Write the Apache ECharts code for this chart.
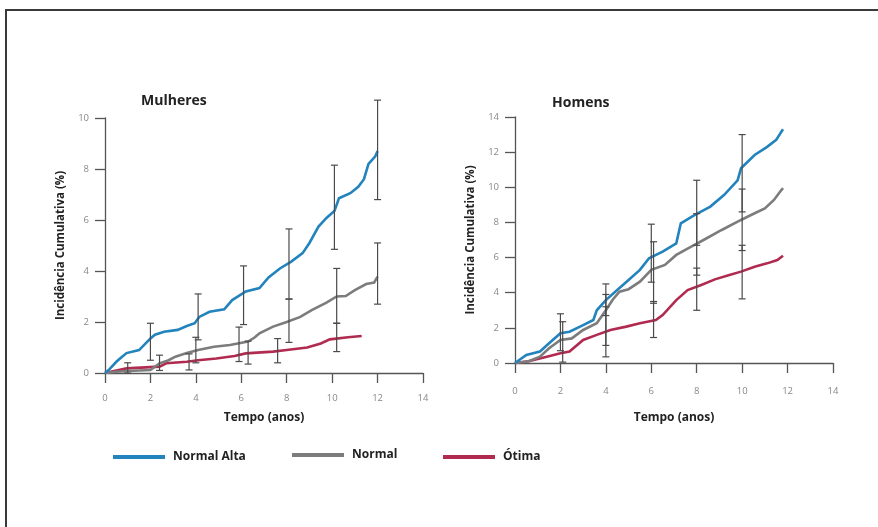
<!DOCTYPE html>
<html>
<head>
<meta charset="utf-8">
<script src="https://cdn.jsdelivr.net/npm/echarts@6/dist/echarts.min.js"></script>
<style>
  html, body { margin: 0; padding: 0; background: #ffffff; }
  #chart { width: 878px; height: 527px; }
</style>
</head>
<body>
<div id="chart"></div>
<script>
// Tick labels shared by both panels
const xTicks = [0, 2, 4, 6, 8, 10, 12, 14];
const seriesNames = ['Normal Alta', 'Normal', 'Ótima'];
const panelTitles = ['Mulheres', 'Homens'];

// Cumulative incidence (%) by year, women: [time, value]
const mulheresNormalAlta = [[0,0],[0.2,0.15],[0.5,0.44],[0.7,0.6],[0.95,0.78],[1.5,0.9],[1.8,1.17],[2.0,1.35],[2.2,1.5],[2.6,1.62],[3.2,1.69],[3.6,1.84],[3.95,1.95],[4.15,2.2],[4.6,2.4],[5.25,2.5],[5.6,2.86],[6.2,3.2],[6.8,3.33],[7.2,3.75],[7.7,4.1],[8.2,4.37],[8.7,4.7],[9.0,5.1],[9.4,5.74],[9.75,6.08],[10.1,6.35],[10.3,6.85],[10.8,7.05],[11.15,7.3],[11.4,7.6],[11.6,8.2],[11.9,8.5],[12.0,8.7]];
const mulheresNormal = [[0,0],[0.5,0.05],[1.0,0.08],[2.0,0.12],[2.4,0.38],[2.8,0.5],[3.1,0.64],[3.6,0.78],[4.1,0.9],[4.8,1.03],[5.5,1.1],[6.3,1.23],[6.6,1.4],[6.8,1.56],[7.4,1.82],[8.0,2.0],[8.6,2.2],[9.1,2.47],[9.75,2.76],[10.2,3.0],[10.6,3.02],[11.0,3.25],[11.5,3.49],[11.85,3.55],[12.0,3.78]];
const mulheresOtima = [[0,0],[0.4,0.08],[0.95,0.18],[2.4,0.25],[2.7,0.38],[3.6,0.44],[4.1,0.5],[4.9,0.57],[5.7,0.67],[6.2,0.77],[7.4,0.84],[8.0,0.9],[8.9,1.0],[9.5,1.16],[9.9,1.32],[10.7,1.4],[11.3,1.45]];

// Cumulative incidence (%) by year, men: [time, value]
const homensNormalAlta = [[0,0],[0.5,0.46],[1.1,0.65],[1.5,1.12],[2.0,1.69],[2.4,1.78],[3.0,2.16],[3.45,2.45],[3.6,3.0],[4.0,3.58],[4.5,4.15],[5.0,4.72],[5.5,5.3],[5.9,5.96],[6.5,6.34],[7.1,6.81],[7.3,7.95],[7.9,8.42],[8.6,8.9],[9.2,9.56],[9.8,10.4],[9.95,11.08],[10.55,11.84],[11.1,12.3],[11.5,12.7],[11.7,13.1],[11.8,13.3]];
const homensNormal = [[0,0],[0.6,0.1],[1.1,0.36],[1.5,0.84],[2.0,1.31],[2.5,1.4],[3.0,1.88],[3.6,2.26],[4.0,3.0],[4.3,3.6],[4.6,4.06],[5.0,4.2],[5.5,4.63],[6.0,5.3],[6.6,5.58],[7.1,6.15],[7.9,6.72],[8.3,7.0],[9.1,7.57],[9.95,8.14],[10.55,8.52],[11.0,8.8],[11.4,9.28],[11.7,9.8],[11.8,9.95]];
const homensOtima = [[0,0],[0.6,0.1],[1.4,0.36],[2.0,0.55],[2.4,0.65],[3.0,1.31],[3.6,1.6],[4.2,1.88],[4.9,2.07],[5.5,2.26],[6.2,2.45],[6.5,2.73],[7.1,3.58],[7.6,4.15],[8.2,4.44],[8.8,4.76],[9.4,5.0],[9.95,5.2],[10.55,5.48],[11.1,5.67],[11.55,5.86],[11.8,6.1]];

// Confidence intervals: [time, lower, upper]
const mulheresBarsAlta = [[2.0,0.5,1.95],[4.1,1.3,3.1],[6.1,1.9,4.2],[8.1,2.9,5.65],[10.1,4.85,8.15],[12.0,6.8,10.7]];
const mulheresBarsNormal = [[2.4,0.1,0.7],[4.0,0.4,1.4],[5.9,0.45,1.8],[8.1,1.2,2.9],[10.2,1.95,4.1],[12.0,2.7,5.1]];
const mulheresBarsOtima = [[1.0,0.0,0.4],[3.7,0.12,0.75],[6.3,0.35,1.25],[7.6,0.4,1.35],[10.2,0.84,1.95]];
const homensBarsAlta = [[2.0,0.7,2.8],[4.0,2.7,4.5],[6.0,4.6,7.9],[8.0,6.7,10.4],[10.0,8.6,13.0]];
const homensBarsNormal = [[2.1,0.05,2.35],[4.0,1.0,3.9],[6.1,3.4,6.9],[8.0,5.0,8.5],[10.0,6.4,9.9]];
const homensBarsOtima = [[4.0,0.35,3.2],[6.1,1.45,3.5],[8.0,3.0,5.4],[10.0,3.65,6.7]];

const colors = { 'Normal Alta': '#2283bd', 'Normal': '#7c7c7c', 'Ótima': '#b12a50' };
const FONT = '"Open Sans", "Noto Sans", sans-serif';

const chart = echarts.init(document.getElementById('chart'), null, { renderer: 'canvas' });

function incidenceLine(name, data, idx) {
  return {
    type: 'line', name: name, data: data,
    xAxisIndex: idx, yAxisIndex: idx,
    showSymbol: false, symbol: 'none',
    color: colors[name],
    lineStyle: { width: 2.6, color: colors[name], join: 'miter' },
    z: 2, silent: true
  };
}

function errorBars(data, idx) {
  return {
    type: 'custom', data: data,
    xAxisIndex: idx, yAxisIndex: idx,
    encode: { x: 0, y: [1, 2] },
    z: 5, silent: true,
    renderItem: function (params, api) {
      const lo = api.coord([api.value(0), api.value(1)]);
      const hi = api.coord([api.value(0), api.value(2)]);
      const w = 3.5;
      const st = { stroke: '#4a4a4a', lineWidth: 1.2 };
      return {
        type: 'group',
        children: [
          { type: 'line', shape: { x1: lo[0], y1: lo[1], x2: hi[0], y2: hi[1] }, style: st },
          { type: 'line', shape: { x1: lo[0] - w, y1: lo[1], x2: lo[0] + w, y2: lo[1] }, style: st },
          { type: 'line', shape: { x1: hi[0] - w, y1: hi[1], x2: hi[0] + w, y2: hi[1] }, style: st }
        ]
      };
    }
  };
}

function xAxis(idx, gap, labelMargin) {
  return {
    type: 'value', gridIndex: idx, min: 0, max: 14, interval: 2,
    name: 'Tempo (anos)', nameLocation: 'middle', nameGap: gap,
    nameTextStyle: { fontFamily: FONT, fontWeight: 'bold', fontSize: 12, color: '#222' },
    axisLine: { lineStyle: { color: '#555', width: 1.3 } },
    axisTick: { show: true, length: 10, lineStyle: { color: '#555', width: 1.3 } },
    axisLabel: { color: '#888', fontSize: 9.5, fontFamily: FONT, margin: labelMargin,
      formatter: function (v) { return xTicks.indexOf(v) >= 0 ? String(v) : ''; } },
    splitLine: { show: false }
  };
}

function yAxis(idx, max) {
  return {
    type: 'value', gridIndex: idx, min: 0, max: max, interval: 2,
    name: 'Incidência Cumulativa (%)', nameLocation: 'middle', nameGap: 38, nameRotate: 90,
    nameTextStyle: { fontFamily: FONT, fontWeight: 'bold', fontSize: 11.5, color: '#222' },
    axisLine: { show: true, lineStyle: { color: '#555', width: 1.3 } },
    axisTick: { show: true, length: 10, lineStyle: { color: '#555', width: 1.3 } },
    axisLabel: { color: '#888', fontSize: 9.5, fontFamily: FONT, margin: 16 },
    splitLine: { show: false }
  };
}

function legendFor(name, left, top) {
  return {
    data: [name], left: left, top: top, orient: 'horizontal',
    icon: 'rect', itemWidth: 52, itemHeight: 4, itemGap: 8,
    selectedMode: false,
    textStyle: { fontFamily: FONT, fontWeight: 'bold', fontSize: 12, color: '#222', padding: [0, 0, 0, 3] }
  };
}

const option = {
  animation: false,
  backgroundColor: '#ffffff',
  textStyle: { fontFamily: FONT },
  graphic: [
    { type: 'rect', shape: { x: 6, y: 10, width: 900, height: 560 },
      style: { fill: 'none', stroke: '#3a3a3a', lineWidth: 2 }, silent: true }
  ],
  title: [
    { text: panelTitles[0], left: 136, top: 89,
      textStyle: { fontFamily: FONT, fontWeight: 'bold', fontSize: 14, color: '#222' } },
    { text: panelTitles[1], left: 547, top: 91,
      textStyle: { fontFamily: FONT, fontWeight: 'bold', fontSize: 14, color: '#222' } }
  ],
  legend: [
    legendFor(seriesNames[0], 108, 446),
    legendFor(seriesNames[1], 287, 444),
    legendFor(seriesNames[2], 438, 446)
  ],
  grid: [
    { left: 105, top: 118, width: 318, height: 255 },
    { left: 515, top: 117, width: 318, height: 246 }
  ],
  xAxis: [xAxis(0, 39, 20), xAxis(1, 49, 23)],
  yAxis: [yAxis(0, 10), yAxis(1, 14)],
  series: [
    incidenceLine(seriesNames[2], mulheresOtima, 0),
    incidenceLine(seriesNames[1], mulheresNormal, 0),
    incidenceLine(seriesNames[0], mulheresNormalAlta, 0),
    incidenceLine(seriesNames[2], homensOtima, 1),
    incidenceLine(seriesNames[1], homensNormal, 1),
    incidenceLine(seriesNames[0], homensNormalAlta, 1),
    errorBars(mulheresBarsAlta, 0),
    errorBars(mulheresBarsNormal, 0),
    errorBars(mulheresBarsOtima, 0),
    errorBars(homensBarsAlta, 1),
    errorBars(homensBarsNormal, 1),
    errorBars(homensBarsOtima, 1)
  ]
};

chart.setOption(option);
</script>
</body>
</html>
